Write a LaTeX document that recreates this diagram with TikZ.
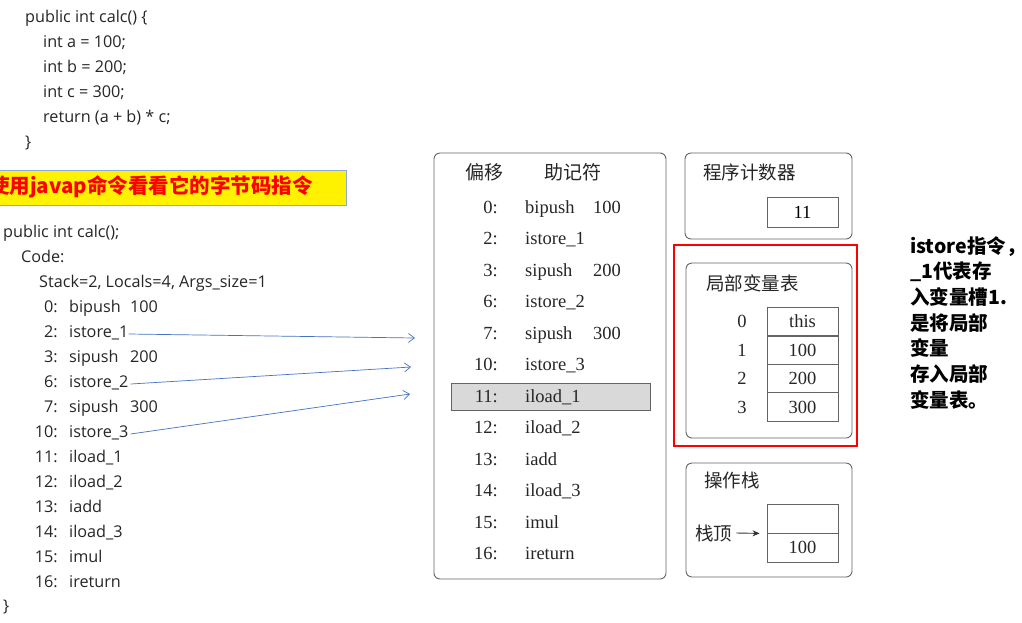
\documentclass[tikz,border=0pt]{standalone}
\usepackage{fontspec}
\setmainfont{Liberation Serif}
\newfontfamily\cjk{Noto Sans CJK SC}
\newfontfamily\codef{Open Sans}
\usetikzlibrary{arrows.meta}
\definecolor{arrblue}{RGB}{68,114,196}
\definecolor{boxgray}{RGB}{100,100,100}
\definecolor{hlgray}{RGB}{217,217,217}
\definecolor{ybord}{RGB}{140,170,210}
\begin{document}
\begin{tikzpicture}[x=1pt,y=-1pt,
  codetxt/.style={font=\codef\fontsize{16.2}{16.2}\selectfont, inner sep=0pt, anchor=west, text height=11.5pt, text depth=2pt, text=black!85},
  codenum/.style={codetxt, anchor=east},
  tabtxt/.style={font=\fontsize{18.5}{18.5}\selectfont, inner sep=0pt, anchor=west, text height=12pt, text depth=1pt, text=black!85},
  tabnum/.style={tabtxt, anchor=east},
  cjktitle/.style={font=\cjk\fontsize{18.5}{18.5}\selectfont, inner sep=0pt, anchor=west, text=black!85},
  frame/.style={draw=boxgray, line width=0.9pt, rounded corners=6pt},
  cell/.style={draw=boxgray, line width=0.8pt},
  link/.style={draw=arrblue, line width=0.7pt, -{Straight Barb[length=6pt,width=9pt]}}
]
\useasboundingbox (0,0) rectangle (1022,622);
\fill[white] (0,0) rectangle (1022,622);

% source code
\node[codetxt] (s1) at (25,18) {public int calc() \{};
\node[codetxt] (s2) at (43,43) {int a = 100;};
\node[codetxt] (s3) at (43,68) {int b = 200;};
\node[codetxt] (s4) at (43,93) {int c = 300;};
\node[codetxt] (s5) at (43,118) {return (a + b) * c;};
\node[codetxt] (s6) at (25,143) {\}};

% yellow banner
\draw[fill=yellow, draw=ybord, line width=0.8pt] (-2,170) rectangle (346,205);
\node[font=\cjk\bfseries\fontsize{20.5}{20.5}\selectfont, text=red, inner sep=0pt, anchor=west] (banner) at (-11,187) {使用javap命令看看它的字节码指令};

% javap output
\node[codetxt] (j1) at (3,233) {public int calc();};
\node[codetxt] (j2) at (21,258) {Code:};
\node[codetxt] (j3) at (39,283) {Stack=2, Locals=4, Args\_size=1};
\foreach \n/\ins/\arg [count=\i from 0] in {0/bipush/100, 2/istore\_1/, 3/sipush/200, 6/istore\_2/, 7/sipush/300, 10/istore\_3/, 11/iload\_1/, 12/iload\_2/, 13/iadd/, 14/iload\_3/, 15/imul/, 16/ireturn/}{
  \node[codenum] (ln\i) at (58,308+25*\i) {\n:};
  \node[codetxt] (li\i) at (69,308+25*\i) {\ins};
  \node[codetxt] (la\i) at (130,308+25*\i) {\arg};
}
\node[codetxt] (j4) at (3,607) {\}};

% arrows
\coordinate (t1) at (415,338);
\coordinate (t2) at (411,367);
\coordinate (t3) at (410,394);
\draw[link] ([xshift=0pt,yshift=-1pt]li1.east) -- (t1);
\draw[link] ([xshift=2pt,yshift=-1pt]li3.east) -- (t2);
\draw[link] ([xshift=2pt,yshift=-1pt]li5.east) -- (t3);

% bytecode table
\draw[frame] (434,153) rectangle (666,579);
\node[font=\cjk\fontsize{19}{19}\selectfont, inner sep=0pt, text=black!85] (h1) at (484,172) {偏移};
\node[font=\cjk\fontsize{19}{19}\selectfont, inner sep=0pt, text=black!85] (h2) at (573,172) {助记符};
\draw[fill=hlgray, draw=boxgray, line width=0.8pt] (451,383) rectangle (650,410);
\foreach \n/\ins/\arg [count=\i from 0] in {0/bipush/100, 2/istore\_1/, 3/sipush/200, 6/istore\_2/, 7/sipush/300, 10/istore\_3/, 11/iload\_1/, 12/iload\_2/, 13/iadd/, 14/iload\_3/, 15/imul/, 16/ireturn/}{
  \node[tabnum] (tn\i) at (498,208+31.45*\i) {\n:};
  \node[tabtxt] (ti\i) at (525,208+31.45*\i) {\ins};
  \node[tabtxt] (ta\i) at (593,208+31.45*\i) {\arg};
}

% program counter
\draw[frame] (685,153) rectangle (852,239);
\node[cjktitle] (pct) at (703,172) {程序计数器};
\node[cell, minimum width=71pt, minimum height=30pt, inner sep=0pt, font=\fontsize{18.5}{18.5}\selectfont] (pc) at (802.5,212) {11};

% local variable table
\draw[red, line width=1.6pt] (674,245) rectangle (857,446);
\draw[frame] (686,263) rectangle (852,438);
\node[cjktitle] (lvt) at (706,283) {局部变量表};
\foreach \v/\yy [count=\i from 0] in {this/321.5, 100/350.5, 200/378.5, 300/407}{
  \node[cell, minimum width=71pt, minimum height=28.7pt, inner sep=0pt, font=\fontsize{18.5}{18.5}\selectfont, text=black!85] (lv\i) at (802.5,\yy) {\v};
  \node[inner sep=0pt, font=\fontsize{18.5}{18.5}\selectfont, text=black!85] (lx\i) at (742,\yy) {\i};
}

% operand stack
\draw[frame] (686,463) rectangle (852,577);
\node[cjktitle] (ost) at (704,480) {操作栈};
\node[cell, minimum width=71pt, minimum height=29pt, inner sep=0pt] (st0) at (802.5,518.5) {};
\node[cell, minimum width=71pt, minimum height=29pt, inner sep=0pt, font=\fontsize{18.5}{18.5}\selectfont, text=black!85] (st1) at (802.5,547.5) {100};
\node[cjktitle] (top) at (695,533) {栈顶};
\draw[black!80, line width=0.9pt, -{Stealth[length=7pt,width=6pt]}] ([xshift=4pt]top.east) -- ([xshift=-7pt]st0.south west);

% note
\node[font=\cjk\bfseries\fontsize{19.5}{25.7}\selectfont, inner sep=0pt, anchor=north west, align=left] (note) at (910,236) {istore指令，\\\_1代表存\\入变量槽1.\\是将局部\\变量\\存入局部\\变量表。};
\end{tikzpicture}
\end{document}
